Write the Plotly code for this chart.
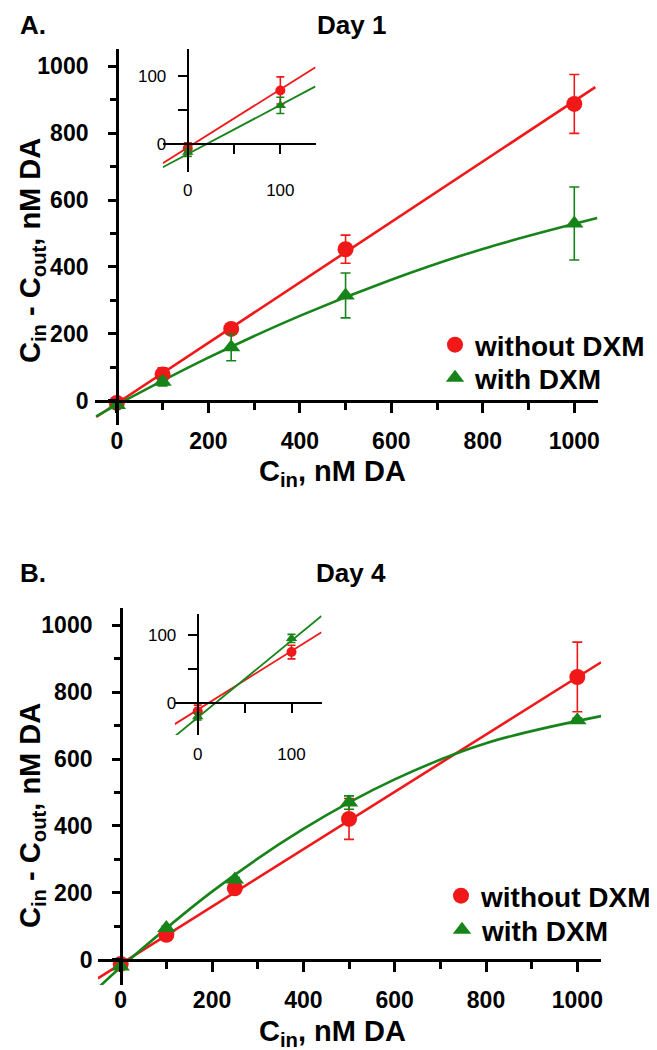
import plotly.graph_objects as go

# page body has an 8px margin, so the figure is laid out in window pixels minus that
OFF = 8
W, H = 657 - OFF, 1050 - OFF

# measured data (nM DA)
conc = [0, 100, 250, 500, 1000]

day1_without = [-6, 79, 215, 453, 887]
day1_without_err = [8, 20, 14, 42, 88]
day1_with = [-12, 57, 160, 315, 530]
day1_with_err = [6, 12, 40, 67, 109]

day4_without = [-12, 75, 214, 421, 845]
day4_without_err = [9, 10, 8, 61, 104]
day4_with = [-20, 95, 240, 470, 716]
day4_with_err = [5, 6, 6, 20, 6]

# fitted curves
fit1_red_x = [-45, 1046]
fit1_red_y = [-48, 937]
fit1_grn_x = [-45, 0, 200, 400, 600, 800, 1050]
fit1_grn_y = [-46, -12, 129, 254, 362, 454, 546]

fit4_red_x = [-50, 1052]
fit4_red_y = [-55, 889]
fit4_grn_x = [-45, 0, 200, 400, 600, 800, 1052]
fit4_grn_y = [-78, -22, 204, 391, 539, 647, 728]

# inset lines
ins1_red_x = [-27, 138]
ins1_red_y = [-28, 113]
ins1_grn_x = [-27, 138]
ins1_grn_y = [-34, 85]
ins4_red_x = [-24.5, 132]
ins4_red_y = [-31, 104]
ins4_grn_x = [-24.5, 132]
ins4_grn_y = [-49, 128]

RED = "#f01818"
GREEN = "#17841a"
FONT = "Liberation Sans, Arial, sans-serif"


def px(x):
    return (x - OFF) / W


def py(y):
    return 1 - (y - OFF) / H


fig = go.Figure()


def add_panel(xa, ya, fits, pts, inset):
    for fx, fy, col, shape in fits:
        fig.add_trace(go.Scatter(x=fx, y=fy, mode="lines",
                                 line=dict(color=col, width=1.8 if inset else 2.6, shape=shape, smoothing=1.0),
                                 xaxis=xa, yaxis=ya, showlegend=False, hoverinfo="skip"))
    for y, err, col, sym, name, leg in pts:
        n = 2 if inset else len(conc)
        fig.add_trace(go.Scatter(
            x=conc[:n], y=y[:n], mode="markers", name=name,
            marker=dict(color=col, symbol=sym, size=10 if inset else 16, line=dict(width=0)),
            error_y=dict(type="data", array=err[:n], color=col, thickness=1.6, width=4 if inset else 5),
            xaxis=xa, yaxis=ya, showlegend=not inset, legend=leg))


add_panel("x", "y",
          [(fit1_red_x, fit1_red_y, RED, "linear"), (fit1_grn_x, fit1_grn_y, GREEN, "spline")],
          [(day1_without, day1_without_err, RED, "circle", "without DXM", "legend"),
           (day1_with, day1_with_err, GREEN, "triangle-up", "with DXM", "legend2")], False)
add_panel("x2", "y2",
          [(ins1_red_x, ins1_red_y, RED, "linear"), (ins1_grn_x, ins1_grn_y, GREEN, "linear")],
          [(day1_without, day1_without_err, RED, "circle", "without DXM", "legend"),
           (day1_with, day1_with_err, GREEN, "triangle-up", "with DXM", "legend")], True)
add_panel("x3", "y3",
          [(fit4_red_x, fit4_red_y, RED, "linear"), (fit4_grn_x, fit4_grn_y, GREEN, "spline")],
          [(day4_without, day4_without_err, RED, "circle", "without DXM", "legend3"),
           (day4_with, day4_with_err, GREEN, "triangle-up", "with DXM", "legend4")], False)
add_panel("x4", "y4",
          [(ins4_red_x, ins4_red_y, RED, "linear"), (ins4_grn_x, ins4_grn_y, GREEN, "linear")],
          [(day4_without, day4_without_err, RED, "circle", "without DXM", "legend"),
           (day4_with, day4_with_err, GREEN, "triangle-up", "with DXM", "legend")], True)

bold_tick = dict(family=FONT, size=23, color="black", weight="bold")
ins_tick = dict(family=FONT, size=17, color="black")


def main_axes(xdom, xrng, ydom, yrng, x0px, y0px):
    xa = dict(domain=[px(xdom[0]), px(xdom[1])], range=xrng, anchor="free", position=py(y0px),
              showline=True, linecolor="black", linewidth=2.5, showgrid=False, zeroline=False,
              ticks="outside", ticklen=10, tickwidth=2.5, tickcolor="black", dtick=200, tick0=0,
              minor=dict(ticks="outside", ticklen=7, tickwidth=2.5, tickcolor="black", dtick=100, tick0=0),
              tickfont=bold_tick, ticklabelstandoff=9)
    ya = dict(domain=[py(ydom[1]), py(ydom[0])], range=yrng, anchor="free", position=px(x0px),
              showline=True, linecolor="black", linewidth=2.5, showgrid=False, zeroline=False,
              ticks="outside", ticklen=8, tickwidth=2.5, tickcolor="black", dtick=200, tick0=0,
              minor=dict(ticks="outside", ticklen=6, tickwidth=2.5, tickcolor="black", dtick=100, tick0=0),
              tickfont=bold_tick, ticklabelstandoff=15)
    return xa, ya


def inset_axes(xdom, xrng, ydom, yrng, x0px, y0px, xstand):
    xa = dict(domain=[px(xdom[0]), px(xdom[1])], range=xrng, anchor="free", position=py(y0px),
              showline=True, linecolor="black", linewidth=2, showgrid=False, zeroline=False,
              ticks="outside", ticklen=9, tickwidth=2, tickcolor="black", tickvals=[0, 100],
              minor=dict(ticks="outside", ticklen=9, tickwidth=2, tickcolor="black", tickvals=[50]),
              tickfont=ins_tick, ticklabelstandoff=xstand)
    ya = dict(domain=[py(ydom[1]), py(ydom[0])], range=yrng, anchor="free", position=px(x0px),
              showline=True, linecolor="black", linewidth=2, showgrid=False, zeroline=False,
              ticks="outside", ticklen=9, tickwidth=2, tickcolor="black", tickvals=[0, 100],
              minor=dict(ticks="outside", ticklen=9, tickwidth=2, tickcolor="black", tickvals=[50]),
              tickfont=ins_tick, ticklabelstandoff=8)
    return xa, ya


x1, y1 = main_axes([95, 599], [-48, 1052], [49, 425], [-72, 1051], 117, 401)
x2, y2 = inset_axes([163, 316], [-27, 138], [49, 172], [-41, 140], 188, 144, 22)
x3, y3 = main_axes([98, 602], [-50, 1052], [608, 985], [-75, 1051], 121, 960)
x4, y4 = inset_axes([175, 322], [-24.5, 132], [614, 735], [-47, 131], 198, 703, 27)

title_font = dict(family=FONT, size=29, color="black", weight="bold")
panel_font = dict(family=FONT, size=26, color="black", weight="bold")
ann = []
for txt, x in [("A.", 33), ("Day 1", 352)]:
    ann.append(dict(text=txt, x=px(x), y=py(8.5), xref="paper", yref="paper", showarrow=False,
                    xanchor="center", yanchor="top", font=panel_font))
for txt, x in [("B.", 33), ("Day 4", 352)]:
    ann.append(dict(text=txt, x=px(x), y=py(573), xref="paper", yref="paper", showarrow=False,
                    xanchor="center", yanchor="middle", font=panel_font))
for y in [473, 1033]:
    ann.append(dict(text="C<sub>in</sub>, nM DA", x=px(333), y=py(y), xref="paper", yref="paper",
                    showarrow=False, xanchor="center", yanchor="middle", font=title_font))
for y in [250, 815]:
    ann.append(dict(text="C<sub>in</sub> - C<sub>out</sub>, nM DA", x=px(32), y=py(y), xref="paper",
                    yref="paper", showarrow=False, textangle=-90, xanchor="center", yanchor="middle",
                    font=title_font))

leg_font = dict(family=FONT, size=28, color="black", weight="bold")


def leg(xc, yc):
    return dict(x=px(xc - 20), y=py(yc), xanchor="left", yanchor="middle", font=leg_font,
                bgcolor="rgba(0,0,0,0)", tracegroupgap=0)


fig.update_layout(
    width=W, height=H, margin=dict(l=0, r=0, t=0, b=0),
    paper_bgcolor="white", plot_bgcolor="rgba(0,0,0,0)",
    xaxis=x1, yaxis=y1, xaxis2=x2, yaxis2=y2, xaxis3=x3, yaxis3=y3, xaxis4=x4, yaxis4=y4,
    annotations=ann,
    legend=leg(455, 345), legend2=leg(455, 378),
    legend3=leg(462, 896), legend4=leg(462, 930),
)

fig.write_html("out.html")
